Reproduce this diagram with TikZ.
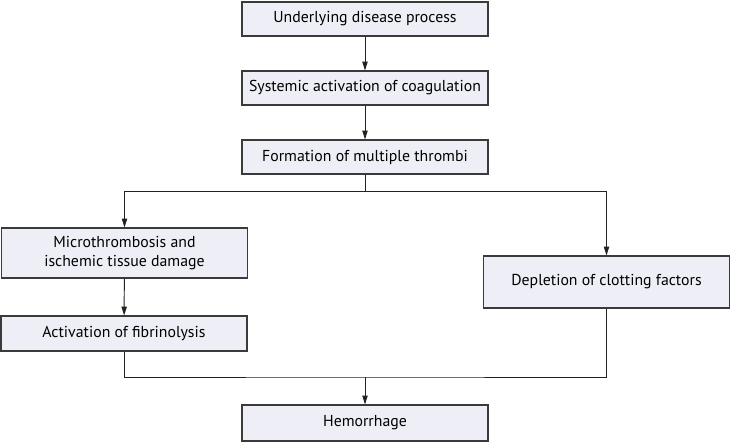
\documentclass[tikz,border=0pt]{standalone}
\usepackage{fontspec}
\setmainfont{PT Sans}
\usetikzlibrary{arrows.meta, positioning}
\definecolor{boxFill}{HTML}{EEEFF6}
\definecolor{boxLine}{HTML}{3A3A3A}
\definecolor{flowLine}{HTML}{222222}
\begin{document}
\begin{tikzpicture}[x=0.02cm, y=-0.02cm,
    stepbox/.style={draw=boxLine, fill=boxFill, line width=0.6pt, minimum width=4.92cm,
      minimum height=0.68cm, align=center, inner sep=0pt, font=\fontsize{9}{11.2}\selectfont},
    link/.style={flowLine, line width=0.55pt},
    flow/.style={link, -{Triangle[width=3pt, length=5pt]}}]
  \useasboundingbox (0,0) rectangle (731,443);
  % cadena central
  \node[stepbox] (disease) at (365,19) {Underlying disease process};
  \node[stepbox] (systemic) at (365,88) {Systemic activation of coagulation};
  \node[stepbox] (thrombi) at (365,157) {Formation of multiple thrombi};
  % ramas
  \node[stepbox, minimum height=1cm] (micro) at (124.5,253) {Microthrombosis and\\ischemic tissue damage};
  \node[stepbox, minimum height=1.04cm] (depletion) at (606.5,282) {Depletion of clotting factors};
  \node[stepbox, minimum height=0.7cm] (fibrino) at (124,333.5) {Activation of fibrinolysis};
  \node[stepbox, minimum height=0.72cm] (hemo) at (365,423) {Hemorrhage};
  \coordinate (split) at (365,191);
  \coordinate (merge) at (365,377);
  % conectores
  \draw[flow] (disease) -- (systemic);
  \draw[flow] (systemic) -- (thrombi);
  \draw[link] (thrombi) -- (split);
  \draw[flow] (split) -| (micro.north);
  \draw[flow] (split) -| (depletion.north);
  \draw[flow] (micro) -- (fibrino);
  \draw[link] (fibrino.south) |- (merge) -| (depletion.south);
  \draw[flow] (merge) -- (hemo);
\end{tikzpicture}
\end{document}
